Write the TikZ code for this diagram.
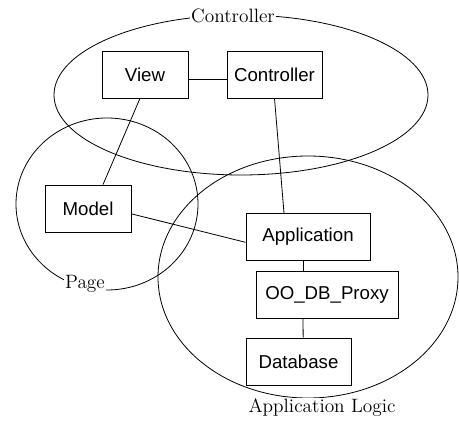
\documentclass[tikz,border=0pt]{standalone}
\usepackage{fontspec}
\newfontfamily\boxfont{Liberation Sans}
\usepackage{tikz}

\begin{document}
\begin{tikzpicture}[x=0.75pt,y=-0.75pt,line width=0.6pt,
    part/.style={draw,minimum height=35.25pt,inner sep=2pt,
      font=\boxfont\fontsize{14}{16}\selectfont},
    group/.style={fill=white,inner sep=1pt,
      font=\fontsize{14.5}{16}\selectfont}]
  \useasboundingbox (0,0) rectangle (459,423);
  % groups
  \draw (241,95) ellipse [x radius=140.25pt, y radius=60pt];
  \draw (107,204) ellipse [x radius=68.25pt, y radius=64.5pt];
  \draw (308,277) ellipse [x radius=112.5pt, y radius=90.75pt];
  \node[group] (ctrlgroup) at (233,16) {Controller};
  \node[group] (pagegroup) at (85,284) {Page};
  \node[group] (appgroup) at (322,408) {Application Logic};
  % parts
  \node[part,minimum width=64.5pt,fill=white] (view) at (145,74.5) {View};
  \node[part,minimum width=71.25pt,fill=white] (ctrl) at (274.5,74.5) {Controller};
  \node[part,minimum width=64.5pt,fill=white] (model) at (88,208.5) {Model};
  \node[part,minimum width=93pt,fill=white] (app) at (308,237) {Application};
  \node[part,minimum width=106.5pt,fill=white] (proxy) at (327,294.5) {OO\_DB\_Proxy};
  \node[part,minimum width=78.75pt,fill=white] (db) at (298.5,361.5) {Database};
  % links
  \draw ([yshift=-4pt]view.east) -- ([yshift=-4pt]ctrl.west);
  \draw ([xshift=-3.75pt]view.south) -- ([xshift=11.25pt]model.north);
  \draw (ctrl.south) -- ([xshift=-18pt]app.north);
  \draw ([yshift=-4pt]model.east) -- ([yshift=-4pt]app.west);
  \draw ([xshift=-3.75pt]app.south) -- ([xshift=-18pt]proxy.north);
  \draw ([xshift=-18pt]proxy.south) -- ([xshift=3.5pt]db.north);
\end{tikzpicture}
\end{document}
